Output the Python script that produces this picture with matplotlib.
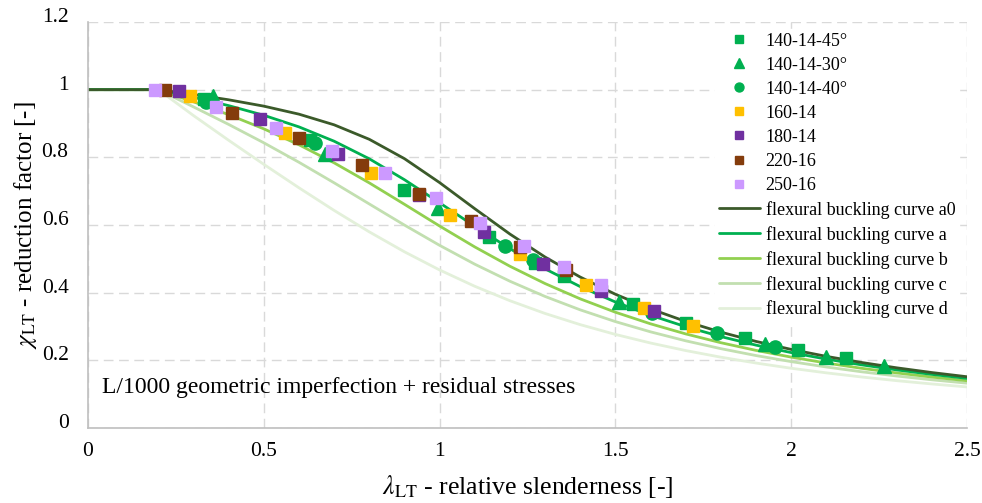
import matplotlib
matplotlib.use("Agg")
import matplotlib.pyplot as plt
import matplotlib.transforms as mtransforms

plt.rcParams['font.family'] = ['Liberation Serif', 'DejaVu Serif']
plt.rcParams['mathtext.fontset'] = 'stix'

# ---- buckling curves (EC3 tabulated values) ----
lam = [0.0, 0.1, 0.2, 0.3, 0.4, 0.5, 0.6, 0.7, 0.8, 0.9, 1.0, 1.1, 1.2, 1.3,
       1.4, 1.5, 1.6, 1.7, 1.8, 1.9, 2.0, 2.1, 2.2, 2.3, 2.4, 2.5]
chi_a0 = [1.0, 1.0, 1.0, 0.9859, 0.9701, 0.9513, 0.9276, 0.8961, 0.8533, 0.7961,
          0.7253, 0.6482, 0.5732, 0.5053, 0.4461, 0.3953, 0.3520, 0.3150, 0.2833,
          0.2559, 0.2323, 0.2117, 0.1937, 0.1779, 0.1639, 0.1515]
chi_a = [1.0, 1.0, 1.0, 0.9775, 0.9528, 0.9243, 0.8900, 0.8477, 0.7957, 0.7339,
         0.6656, 0.5960, 0.5300, 0.4703, 0.4179, 0.3724, 0.3332, 0.2994, 0.2702,
         0.2449, 0.2229, 0.2036, 0.1867, 0.1717, 0.1585, 0.1467]
chi_b = [1.0, 1.0, 1.0, 0.9641, 0.9261, 0.8842, 0.8371, 0.7837, 0.7245, 0.6612,
         0.5970, 0.5352, 0.4781, 0.4269, 0.3817, 0.3422, 0.3079, 0.2781, 0.2521,
         0.2294, 0.2095, 0.1920, 0.1765, 0.1628, 0.1506, 0.1397]
chi_c = [1.0, 1.0, 1.0, 0.9491, 0.8973, 0.8430, 0.7854, 0.7247, 0.6622, 0.5998,
         0.5399, 0.4842, 0.4338, 0.3888, 0.3492, 0.3145, 0.2842, 0.2577, 0.2345,
         0.2141, 0.1962, 0.1803, 0.1662, 0.1537, 0.1425, 0.1325]
chi_d = [1.0, 1.0, 1.0, 0.9235, 0.8504, 0.7793, 0.7100, 0.6431, 0.5797, 0.5208,
         0.4671, 0.4189, 0.3762, 0.3385, 0.3055, 0.2766, 0.2512, 0.2289, 0.2093,
         0.1920, 0.1766, 0.1630, 0.1508, 0.1399, 0.1302, 0.1214]

# ---- numerical results ----
s45_x = [0.33, 0.63, 0.90, 1.14, 1.27, 1.355, 1.55, 1.70, 1.87, 2.02, 2.155]
s45_y = [0.972, 0.852, 0.704, 0.565, 0.488, 0.450, 0.367, 0.310, 0.266, 0.231, 0.207]
t30_x = [0.355, 0.675, 0.995, 1.51, 1.925, 2.10, 2.265]
t30_y = [0.980, 0.811, 0.649, 0.372, 0.248, 0.210, 0.183]
c40_x = [0.335, 0.645, 1.185, 1.265, 1.605, 1.79, 1.955]
c40_y = [0.965, 0.841, 0.537, 0.496, 0.340, 0.280, 0.239]
y160_x = [0.29, 0.56, 0.805, 1.03, 1.23, 1.415, 1.58, 1.72]
y160_y = [0.980, 0.873, 0.755, 0.631, 0.513, 0.423, 0.355, 0.302]
p180_x = [0.26, 0.49, 0.71, 0.94, 1.125, 1.295, 1.46, 1.61]
p180_y = [0.997, 0.914, 0.811, 0.690, 0.579, 0.485, 0.405, 0.346]
b220_x = [0.22, 0.41, 0.60, 0.78, 0.94, 1.09, 1.23, 1.36]
b220_y = [1.0, 0.932, 0.858, 0.776, 0.693, 0.611, 0.534, 0.467]
l250_x = [0.19, 0.365, 0.535, 0.695, 0.845, 0.99, 1.115, 1.24, 1.355, 1.46]
l250_y = [1.0, 0.948, 0.888, 0.820, 0.753, 0.679, 0.606, 0.538, 0.476, 0.423]

x_ticks = [0, 0.5, 1, 1.5, 2, 2.5]
x_tick_labels = ['0', '0.5', '1', '1.5', '2', '2.5']
y_ticks = [0, 0.2, 0.4, 0.6, 0.8, 1.0, 1.2]
y_tick_labels = ['0', '0.2', '0.4', '0.6', '0.8', '1', '1.2']

fig = plt.figure(figsize=(9.82, 5.03), dpi=100)
ax = fig.add_axes([88/982, 1-428/503, (967-88)/982, (428-22)/503])

curve_handles = []
for y, col, lab in [(chi_a0, '#3b5a2a', 'flexural buckling curve a0'),
                    (chi_a, '#00b050', 'flexural buckling curve a'),
                    (chi_b, '#92d050', 'flexural buckling curve b'),
                    (chi_c, '#c2dfb0', 'flexural buckling curve c'),
                    (chi_d, '#e3f0da', 'flexural buckling curve d')][::-1]:
    h, = ax.plot(lam, y, color=col, lw=2.0, label=lab, zorder=2,
                 solid_capstyle='round')
    curve_handles.append(h)
curve_handles = curve_handles[::-1]

mk_handles = []
for xs, ys, m, col, ms, lab in [
        (s45_x, s45_y, 's', '#00b050', 9, '140-14-45°'),
        (t30_x, t30_y, '^', '#00b050', 10, '140-14-30°'),
        (c40_x, c40_y, 'o', '#00b050', 9.5, '140-14-40°'),
        (y160_x, y160_y, 's', '#ffc000', 9, '160-14'),
        (p180_x, p180_y, 's', '#7030a0', 9, '180-14'),
        (b220_x, b220_y, 's', '#843c0c', 9, '220-16'),
        (l250_x, l250_y, 's', '#cc99ff', 9, '250-16')]:
    h, = ax.plot(xs, ys, linestyle='none', marker=m, color=col, ms=ms,
                 mec=col, label=lab, zorder=3)
    mk_handles.append(h)

ax.set_xlim(0, 2.5)
ax.set_ylim(0, 1.2)
ax.set_xticks(x_ticks)
ax.set_xticklabels(x_tick_labels)
ax.set_yticks(y_ticks)
ax.set_yticklabels(y_tick_labels)
ax.tick_params(length=0, labelsize=15.5, colors='black')
ax.tick_params(axis='x', pad=10)
ax.tick_params(axis='y', pad=14)
off = mtransforms.ScaledTranslation(0, 7/100, fig.dpi_scale_trans)
for lb in ax.get_yticklabels():
    lb.set_transform(lb.get_transform() + off)

ax.grid(True, color='#d9d9d9', linestyle=(0, (7, 4)), linewidth=1.0, zorder=0)
ax.set_axisbelow(True)
for s in ['top', 'right']:
    ax.spines[s].set_visible(False)
for s in ['left', 'bottom']:
    ax.spines[s].set_color('#bfbfbf')
    ax.spines[s].set_linewidth(1.2)

ax.set_xlabel(r'$\lambda_{\mathrm{LT}}$ - relative slenderness [-]', fontsize=18.5, labelpad=9)
ax.set_ylabel(r'$\chi_{\mathrm{LT}}$ - reduction factor [-]', fontsize=18, labelpad=2)

ax.text(0.04, 0.121, 'L/1000 geometric imperfection + residual stresses',
        fontsize=17, va='center', ha='left', zorder=5)

leg = ax.legend(handles=mk_handles + curve_handles, loc='upper left',
                bbox_to_anchor=(715/982, 1-29/503), bbox_transform=fig.transFigure,
                frameon=True, fancybox=False, framealpha=1, edgecolor='white',
                facecolor='white', fontsize=13, markerscale=0.68,
                handlelength=2.3, handletextpad=0.3, labelspacing=0.39,
                borderpad=0.2, borderaxespad=0)
leg.set_zorder(6)

fig.savefig('out.png', dpi=100)
